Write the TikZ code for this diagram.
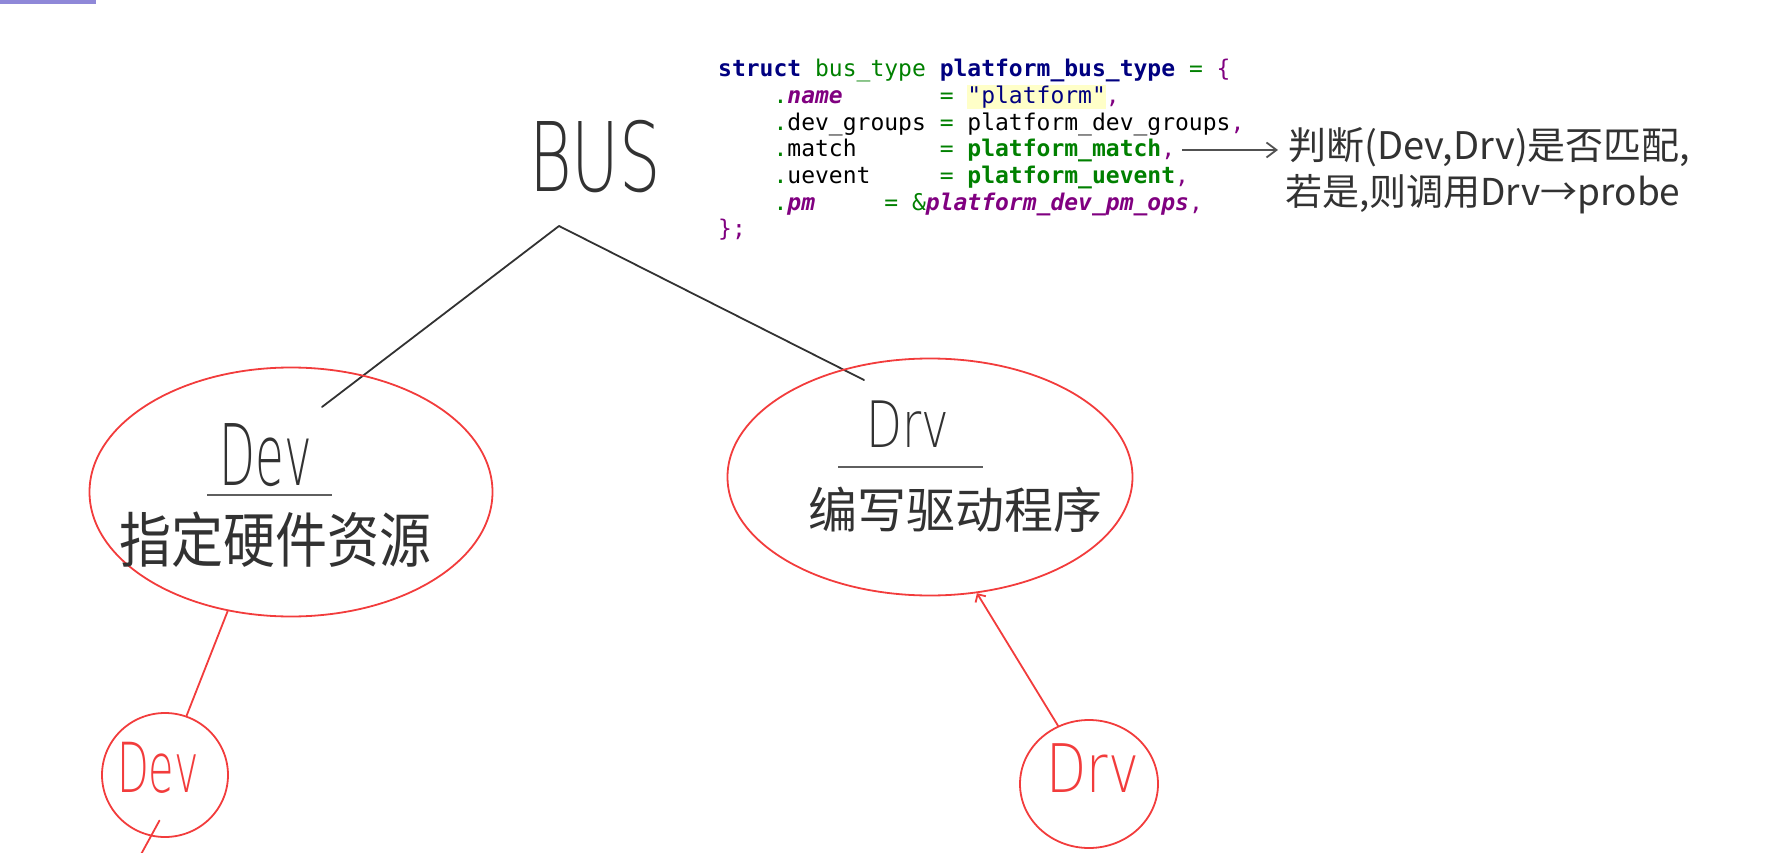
\documentclass[tikz,border=0pt]{standalone}
\usepackage{fontspec}
\usetikzlibrary{arrows.meta,shapes.geometric,calc}
\setmonofont{DejaVu Sans Mono}
\newfontfamily\handfont{Noto Sans CJK SC}
\newfontfamily\thinfont{DejaVuSans-ExtraLight.ttf}
\definecolor{cInk}  {RGB}{50,  50,  50}
\definecolor{cBarL} {RGB}{95,  95,  95}
\definecolor{cRed}  {RGB}{242, 60,  60}
\definecolor{cNavy} {RGB}{0,   0,  128}
\definecolor{cGreen}{RGB}{0,  128,   0}
\definecolor{cPurp} {RGB}{128,  0, 128}
\definecolor{cHl}   {RGB}{255, 255, 200}
\definecolor{cStrip}{RGB}{143, 136, 216}
\setlength{\fboxsep}{0pt}
\newcommand\cKw[1]{\textcolor{cNavy}{\bfseries #1}}
\newcommand\cTy[1]{\textcolor{cGreen}{#1}}
\newcommand\cFld[1]{\textcolor{cPurp}{\bfseries\itshape #1}}
\newcommand\cFn[1]{\textcolor{cGreen}{\bfseries #1}}
\newcommand\cPu[1]{\textcolor{cPurp}{#1}}
\newcommand\cOp[1]{\textcolor{cGreen}{#1}}
\newcommand\cSp[1]{\hspace*{#1\fontcharwd\font`M}}
\newcommand\squeeze[2]{\scalebox{#1}[1]{#2}}
\tikzset{
  inkL/.style  = {draw=cInk, line width=1.8pt, line cap=round, line join=round},
  barL/.style  = {draw=cBarL, line width=1.8pt},
  redL/.style  = {draw=cRed, line width=1.8pt, line cap=round},
  blobE/.style = {ellipse, draw=cRed, line width=1.8pt, inner sep=0pt},
  codeT/.style = {anchor=base west, inner sep=0pt,
                  font=\ttfamily\fontsize{23}{26}\selectfont},
  handT/.style = {inner sep=0pt, text=cInk},
  redT/.style  = {inner sep=0pt, text=cRed},
  A/.style     = {-{Straight Barb[length=10pt,width=15pt]}, line width=1.8pt, draw=cInk!85},
}

\begin{document}
\begin{tikzpicture}[x=1pt,y=-1pt]
\useasboundingbox (0,0) rectangle (1765,853);

%% strip at the top left
\fill[cStrip] (0,0) rectangle (96,4);

%% ─── code listing ────────────────────────────────────────────────
\node[codeT] (cHead)  at (718, 77.0)
  {\cKw{struct}\cSp{1}\cTy{bus\_type}\cSp{1}\cKw{platform\_bus\_type}\cSp{1}\cOp{=}\cSp{1}\cPu{\{}};
\node[codeT] (cName)  at (718,103.7)
  {\cSp{4}\cOp{.}\cFld{name}\cSp{7}\cOp{=}\cSp{1}\colorbox{cHl}{\rule[-5pt]{0pt}{24pt}\textcolor{cNavy}{"platform"}}\cPu{,}};
\node[codeT] (cGrp)   at (718,130.3)
  {\cSp{4}\cOp{.}dev\_groups\cSp{1}\cOp{=}\cSp{1}platform\_dev\_groups\cPu{,}};
\node[codeT] (cMatch) at (718,157.0)
  {\cSp{4}\cOp{.}match\cSp{6}\cOp{=}\cSp{1}\cFn{platform\_match}\cPu{,}};
\node[codeT] (cUev)   at (718,183.7)
  {\cSp{4}\cOp{.}uevent\cSp{5}\cOp{=}\cSp{1}\cFn{platform\_uevent}\cPu{,}};
\node[codeT] (cPm)    at (718,210.3)
  {\cSp{4}\cOp{.}\cFld{pm}\cSp{5}\cOp{=}\cSp{1}\cOp{\&}\cFld{platform\_dev\_pm\_ops}\cPu{,}};
\node[codeT] (cEnd)   at (718,237.0) {\cPu{\};}};

%% ─── note on match ──────────────────────────────────────────────
\node[handT, anchor=west, font=\handfont\fontsize{38}{38}\selectfont] (judge) at (1288,147)
  {判断(Dev,Drv)是否匹配,};
\node[handT, anchor=west, font=\handfont\fontsize{37}{37}\selectfont] (probe) at (1285,194)
  {若是,则调用Drv→probe};

\draw[A, shorten <=7pt, shorten >=10pt] ([yshift=1pt]cMatch.east) -- ([yshift=1pt]cMatch.east -| judge.west);

%% ─── BUS ─────────────────────────────────────────────────────────
\node[handT, font=\thinfont\fontsize{96}{96}\selectfont] (bus) at (595,157) {\squeeze{0.68}{BUS}};

\coordinate (apex)   at (559,226);
\coordinate (devTip) at (322,407);
\coordinate (drvTip) at (864,380);
\draw[inkL] (devTip) -- (apex) -- (drvTip);

%% ─── Dev ─────────────────────────────────────────────────────────
\node[blobE, minimum width=403pt, minimum height=249pt] (dev) at (291,492) {};
\node[handT, font=\thinfont\fontsize{85}{85}\selectfont] (devName) at (266,455) {\squeeze{0.55}{Dev}};
\draw[barL] (207,495) -- (332,495);
\node[handT, font=\handfont\fontsize{52}{52}\selectfont] (devRes) at (275,540)
  {\scalebox{1}[1.15]{指定硬件资源}};

%% ─── Drv ─────────────────────────────────────────────────────────
\node[blobE, minimum width=405pt, minimum height=237pt] (drv) at (930,477) {};
\node[handT, font=\thinfont\fontsize{64}{64}\selectfont] (drvName) at (908,424) {\squeeze{0.73}{Drv}};
\draw[barL] (838,467) -- (983,467);
\node[handT, font=\handfont\fontsize{49}{49}\selectfont] (drvCode) at (955,510) {编写驱动程序};

%% ─── small ones ─────────────────────────────────────────────────
\node[blobE, minimum width=126pt, minimum height=124pt] (sdev) at (165,775) {};
\node[redT, font=\thinfont\fontsize{69}{69}\selectfont] (sdevName) at (158,768) {\squeeze{0.6}{Dev}};
\node[blobE, minimum width=138pt, minimum height=128pt] (sdrv) at (1089,784) {};
\node[redT, font=\thinfont\fontsize{67}{67}\selectfont] (sdrvName) at (1093,768) {\squeeze{0.78}{Drv}};

\coordinate (devTail) at (139,858);
\draw[redL] (dev.242) -- (sdev.70);
\draw[redL, shorten <=-18pt] (sdev.257) -- (devTail);
\draw[redL, -{Straight Barb[length=6pt,width=12pt]}] (sdrv.118) -- (drv.292);

\end{tikzpicture}
\end{document}
